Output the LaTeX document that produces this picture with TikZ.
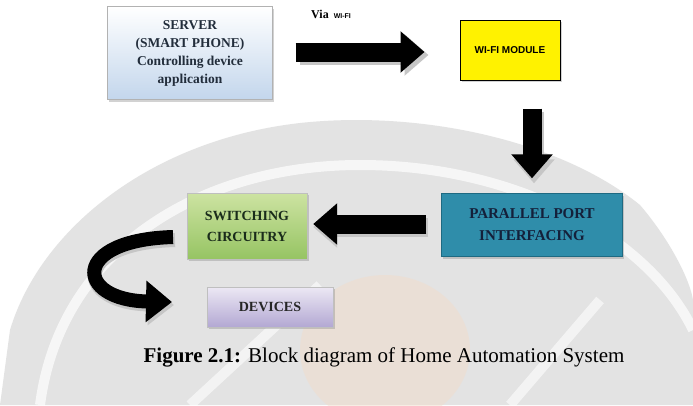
\documentclass[tikz,border=0pt]{standalone}
\usepackage{fontspec}
\setmainfont{Liberation Serif}
\newfontfamily\sansbold{Liberation Sans}
\usetikzlibrary{arrows.meta,shadows}
\definecolor{serverblue}{HTML}{C3D6EC}
\definecolor{servertext}{HTML}{222D3B}
\definecolor{wifiyellow}{HTML}{FFF200}
\definecolor{teal}{HTML}{2F8DAA}
\definecolor{tealdark}{HTML}{1E6A82}
\definecolor{navytext}{HTML}{14203A}
\definecolor{greentop}{HTML}{CDE3A2}
\definecolor{greenbot}{HTML}{96C463}
\definecolor{greentext}{HTML}{1A2C1B}
\definecolor{lavtop}{HTML}{ECE8F4}
\definecolor{lavbot}{HTML}{B3A8D3}
\definecolor{wmgray}{HTML}{E3E3E3}
\definecolor{wmorange}{HTML}{F3DCC8}
\tikzset{
  box/.style={draw, inner sep=2pt, align=center, font=\fontsize{14}{19}\selectfont\bfseries,
    drop shadow={opacity=0.35, shadow xshift=1.5pt, shadow yshift=-2pt}},
  blockarrow/.style={line width=19pt, -{Triangle[length=24pt,width=40pt]}},
  arrowshade/.style={line width=19pt, draw=gray!45, -{Triangle[length=24pt,width=40pt]}},
}
\begin{document}
\begin{tikzpicture}[x=1pt,y=-1pt]
\useasboundingbox (0,0) rectangle (693,405);
\fill[white] (0,0) rectangle (693,405);
% watermark
\fill[wmgray] (0,405) -- (10,330) .. controls (40,230) and (150,140) .. (300,123)
  .. controls (420,110) and (560,140) .. (640,205) .. controls (670,240) and (690,280) .. (693,300)
  -- (693,405) -- cycle;
\draw[white, line width=10pt, opacity=0.7] (40,405) .. controls (60,250) and (200,165) .. (360,165)
  .. controls (520,165) and (650,240) .. (693,330);
\fill[wmorange, opacity=0.45] (385,350) ellipse (85 and 75);
\draw[white, line width=10pt, opacity=0.6] (190,405) -- (320,285);
\draw[white, line width=10pt, opacity=0.6] (510,405) -- (600,300);
% nodes
\node[box, draw=gray!60, top color=white, bottom color=serverblue, text=servertext,
  minimum width=165pt, minimum height=93pt, font=\fontsize{13.5}{18}\selectfont\bfseries]
  (server) at (190,53) {SERVER\\(SMART PHONE)\\Controlling device\\application};
\node[box, draw=black, line width=1pt, fill=wifiyellow, minimum width=100pt, minimum height=60pt,
  font=\sansbold\fontsize{10}{12}\selectfont\bfseries] (wifi) at (510,50) {WI-FI MODULE};
\node[box, draw=tealdark, fill=teal, text=navytext, minimum width=181pt, minimum height=63pt,
  font=\fontsize{15}{22}\selectfont\bfseries] (par) at (532,225) {PARALLEL PORT\\INTERFACING};
\node[box, draw=gray!50, top color=greentop, bottom color=greenbot, text=greentext,
  minimum width=120pt, minimum height=66pt, font=\fontsize{14}{21}\selectfont\bfseries]
  (sw) at (247,226) {SWITCHING\\CIRCUITRY};
\node[box, draw=gray!50, top color=lavtop, bottom color=lavbot, text=black!85,
  minimum width=126pt, minimum height=40pt] (dev) at (270,307) {DEVICES};
\node[anchor=west, inner sep=0pt, font=\fontsize{12}{14}\selectfont\bfseries] (via) at (311,14)
  {Via \,{\sansbold\fontsize{7}{8}\selectfont\bfseries WI-FI}};
\node[inner sep=0pt, font=\fontsize{21}{24}\selectfont] (cap) at (384,357)
  {\textbf{Figure 2.1:} Block diagram of Home Automation System};
% arrows
\coordinate (a1) at (server.east |- 0,52);
\coordinate (a1e) at (wifi.west |- 0,52);
\draw[arrowshade, shorten <=25pt, shorten >=33pt] ([shift={(2,3)}]a1) -- ([shift={(2,3)}]a1e);
\draw[blockarrow, shorten <=23pt, shorten >=35pt] (a1) -- (a1e);
\coordinate (d1) at (par.north |- wifi.south);
\draw[arrowshade, shorten <=28pt, shorten >=13pt] ([shift={(2,3)}]d1) -- ([shift={(2,3)}]par.north);
\draw[blockarrow, shorten <=28pt, shorten >=15pt] (d1) -- (par.north);
\coordinate (l1) at (par.west |- 0,224);
\coordinate (l1e) at (sw.east |- 0,224);
\draw[arrowshade, shorten <=15pt, shorten >=4pt] ([shift={(2,3)}]l1) -- ([shift={(2,3)}]l1e);
\draw[blockarrow, shorten <=15pt, shorten >=6pt] (l1) -- (l1e);
\coordinate (c1) at (173,237);
\coordinate (c2) at (172,302);
\draw[line width=14pt, draw=gray!45, -{Triangle[length=26pt,width=40pt]}]
  ([shift={(2,3)}]c1) .. controls (70,243) and (75,303) .. ([shift={(2,3)}]c2);
\draw[line width=14pt, -{Triangle[length=26pt,width=40pt]}]
  (c1) .. controls (70,240) and (75,300) .. (c2);
\end{tikzpicture}
\end{document}
